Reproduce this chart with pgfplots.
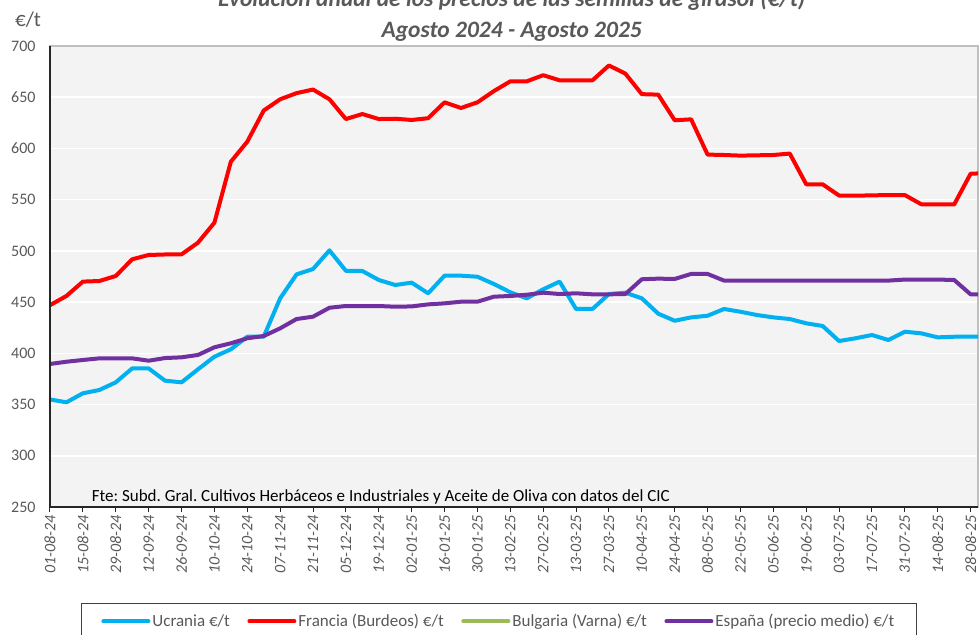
\documentclass[border=0pt]{standalone}
\usepackage{fontspec}
\setmainfont{Carlito}
\usepackage{pgfplots}
\pgfplotsset{compat=1.18}
\frenchspacing
\definecolor{ucr}{HTML}{00B0F0}
\definecolor{fra}{HTML}{FF0000}
\definecolor{bul}{HTML}{9BBB59}
\definecolor{esp}{HTML}{7030A0}
\definecolor{plotbg}{HTML}{F3F3F3}
\definecolor{framec}{HTML}{BFBFBF}
\definecolor{tickc}{HTML}{595959}
\definecolor{legc}{HTML}{404040}
\newcommand{\tf}{\fontsize{16bp}{19bp}\selectfont}
\newcommand{\lf}{\fontsize{17bp}{20bp}\selectfont}
\begin{document}
\begin{tikzpicture}
\useasboundingbox (-50bp,-128bp) rectangle (930bp,507bp);
\clip (-50bp,-128bp) rectangle (930bp,507bp);
\begin{axis}[name=ax, at={(0,0)}, anchor=south west,
  width=928bp, height=461bp, scale only axis,
  xmin=0, xmax=56.45, ymin=250, ymax=700,
  ytick={250,300,...,700},
  xtick={0,2,...,56},
  xticklabels={01-08-24,15-08-24,29-08-24,12-09-24,26-09-24,10-10-24,24-10-24,07-11-24,21-11-24,05-12-24,19-12-24,02-01-25,16-01-25,30-01-25,13-02-25,27-02-25,13-03-25,27-03-25,10-04-25,24-04-25,08-05-25,22-05-25,05-06-25,19-06-25,03-07-25,17-07-25,31-07-25,14-08-25,28-08-25},
  axis background/.style={fill=plotbg},
  ymajorgrids, grid style={white, line width=1.5bp},
  axis line style={draw=framec, line width=1.2bp},
  xtick pos=bottom, ytick pos=left,
  tick align=outside, major tick length=5bp,
  xtick style={black!85, line width=1bp},
  ytick style={draw=none},
  xticklabel style={rotate=90, anchor=east, font=\tf\itshape, text=tickc},
  yticklabel style={font=\tf, text=tickc, xshift=-6bp},
  /pgf/number format/assume math mode=true,
  legend columns=4,
  legend cell align=left,
  legend image code/.code={\draw[#1, line cap=round] (0bp,0bp) -- (45bp,0bp);},
  legend style={at={(axis description cs:0.0334,-0.2082)}, anchor=north west,
    draw=legc, line width=0.8bp, fill=white, font=\lf, text=tickc,
    inner xsep=20bp, inner ysep=8bp,
    nodes={inner xsep=2bp, inner ysep=3bp},
    /tikz/every even column/.append style={column sep=15.5bp}},
  every axis plot/.append style={line width=4bp, line join=round},
]
\addplot[ucr] coordinates {
(0,355) (1,352.2) (2,361) (3,364.2) (4,371.7) (5,385.3) (6,385.3) (7,373.3) (8,371.7) (9,384.4)
(10,396.7) (11,403.9) (12,416.2) (13,416.2) (14,453.7) (15,477.1) (16,482.3) (17,500.5) (18,480.5) (19,480.4)
(20,471.6) (21,466.7) (22,469) (23,458.6) (24,475.8) (25,475.8) (26,474.8) (27,467.7) (28,459.6) (29,453.7)
(30,462.5) (31,470) (32,443.3) (33,443.3) (34,457.9) (35,459.2) (36,453.7) (37,438.7) (38,431.8) (39,435.1)
(40,436.7) (41,443.3) (42,440.6) (43,437.4) (44,435.1) (45,433.5) (46,429.3) (47,426.7) (48,412) (49,414.7)
(50,417.9) (51,413) (52,421.1) (53,419.5) (54,415.6) (55,416.2) (56,416.2) (57,416.2)};
\addlegendentry{Ucrania €/t}
\addplot[fra] coordinates {
(0,447) (1,456) (2,470) (3,470.6) (4,475.5) (5,491.8) (6,496) (7,496.5) (8,496.6) (9,508)
(10,527.5) (11,587) (12,606.6) (13,637) (14,648) (15,654) (16,657.5) (17,648) (18,628.7) (19,633.6)
(20,628.7) (21,629) (22,627.8) (23,629.5) (24,645) (25,639.5) (26,645) (27,656) (28,665.5) (29,665.5)
(30,671.5) (31,666.5) (32,666.5) (33,666.5) (34,681) (35,673) (36,653) (37,652.5) (38,627.5) (39,628.4)
(40,594) (41,593.6) (42,593) (43,593.3) (44,593.6) (45,595) (46,565) (47,565) (48,554) (49,553.9)
(50,554.2) (51,554.5) (52,554.5) (53,545.5) (54,545.5) (55,545.3) (56,575.3) (57,576)};
\addlegendentry{Francia (Burdeos) €/t}
\addlegendimage{bul, line width=4bp}
\addlegendentry{Bulgaria (Varna) €/t}
\addplot[esp] coordinates {
(0,389.6) (1,391.8) (2,393.5) (3,395.1) (4,395.1) (5,395.1) (6,392.8) (7,395.4) (8,396.1) (9,398.4)
(10,405.9) (11,409.8) (12,414.7) (13,416.9) (14,424.4) (15,433.5) (16,435.8) (17,444.5) (18,446.2) (19,446.2)
(20,446.2) (21,445.5) (22,445.8) (23,447.8) (24,448.8) (25,450.4) (26,450.4) (27,455.3) (28,456) (29,457.2)
(30,459.2) (31,457.9) (32,458.6) (33,457.6) (34,457.6) (35,457.9) (36,472.3) (37,472.9) (38,472.6) (39,477.5)
(40,477.5) (41,471) (42,471) (43,471) (44,471) (45,471) (46,471) (47,471) (48,471) (49,471)
(50,471) (51,471) (52,472) (53,472) (54,472) (55,471.6) (56,457.6) (57,457.6)};
\addlegendentry{España (precio medio) €/t}
\end{axis}
\draw[black!85, line width=1.2bp] (ax.north west) -- (ax.south west) -- (ax.south east);
\node[anchor=base west, font=\lf, text=black, inner sep=0pt] at ([xshift=41.7bp,yshift=5.3bp]ax.south west)
  {Fte: Subd. Gral. Cultivos Herbáceos e Industriales y Aceite de Oliva con datos del CIC};
\node[anchor=base, inner sep=0pt, text=tickc, font=\fontsize{23.5bp}{28bp}\selectfont\bfseries\itshape] at (461.7bp,500.5bp)
  {Evolución anual de los precios de las semillas de girasol (€/t)};
\node[anchor=base, inner sep=0pt, text=tickc, font=\fontsize{23.5bp}{28bp}\selectfont\bfseries\itshape] at (461.7bp,469.7bp)
  {Agosto 2024 - Agosto 2025};
\node[anchor=base west, inner sep=0pt, text=tickc, font=\fontsize{21bp}{25bp}\selectfont] at (-35bp,480bp) {€/t};
\end{tikzpicture}
\end{document}
